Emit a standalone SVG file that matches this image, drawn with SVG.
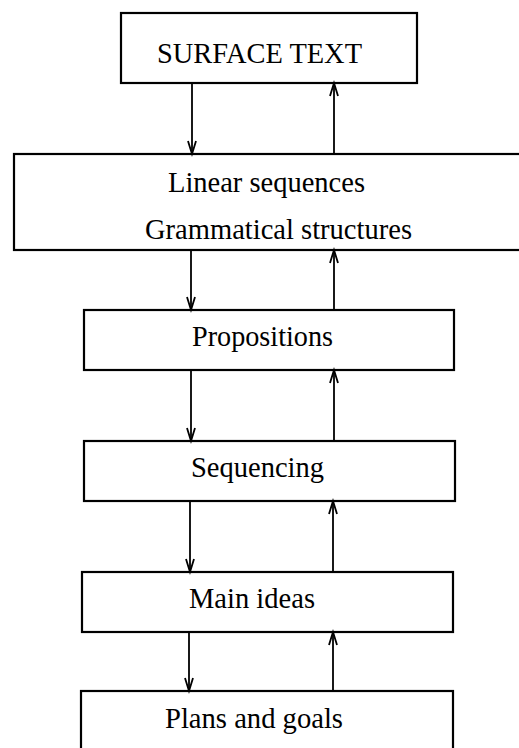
<svg xmlns="http://www.w3.org/2000/svg" width="519" height="748" viewBox="0 0 519 748">
<style>
.box{fill:#fff;stroke:#000;stroke-width:2.2}
.lbl{font-family:"Liberation Serif","Times New Roman",serif;font-size:30px;fill:#000}
.con line{stroke:#000;stroke-width:1.8;fill:none}
.con polyline{stroke:#000;stroke-width:1.8;fill:none}
</style>
<rect width="519" height="748" fill="#fff"/>
<g id="surface-text"><rect class="box" x="121" y="13" width="296" height="70"/><text class="lbl" x="157" y="63" textLength="205" lengthAdjust="spacingAndGlyphs">SURFACE TEXT</text></g>
<g id="linear-grammatical"><rect class="box" x="14" y="154" width="520" height="96"/><text class="lbl" x="168" y="192" textLength="197" lengthAdjust="spacingAndGlyphs">Linear sequences</text><text class="lbl" x="145" y="239" textLength="267" lengthAdjust="spacingAndGlyphs">Grammatical structures</text></g>
<g id="propositions"><rect class="box" x="84" y="310" width="370" height="60"/><text class="lbl" x="192" y="346" textLength="141" lengthAdjust="spacingAndGlyphs">Propositions</text></g>
<g id="sequencing"><rect class="box" x="84" y="441" width="371" height="60"/><text class="lbl" x="191" y="477" textLength="133" lengthAdjust="spacingAndGlyphs">Sequencing</text></g>
<g id="main-ideas"><rect class="box" x="82" y="572" width="371" height="60"/><text class="lbl" x="189" y="608" textLength="126" lengthAdjust="spacingAndGlyphs">Main ideas</text></g>
<g id="plans-goals"><rect class="box" x="81" y="691" width="372" height="70"/><text class="lbl" x="165" y="728" textLength="178" lengthAdjust="spacingAndGlyphs">Plans and goals</text></g>
<g id="connectors" class="con">
<line x1="192" y1="83" x2="192" y2="154"/><polyline points="188,141 192,154 196,141"/>
<line x1="334" y1="154" x2="334" y2="83"/><polyline points="330,96 334,83 338,96"/>
<line x1="191" y1="250" x2="191" y2="310"/><polyline points="187,297 191,310 195,297"/>
<line x1="334" y1="310" x2="334" y2="250"/><polyline points="330,263 334,250 338,263"/>
<line x1="191" y1="370" x2="191" y2="441"/><polyline points="187,428 191,441 195,428"/>
<line x1="334" y1="441" x2="334" y2="370"/><polyline points="330,383 334,370 338,383"/>
<line x1="190" y1="501" x2="190" y2="572"/><polyline points="186,559 190,572 194,559"/>
<line x1="333" y1="572" x2="333" y2="501"/><polyline points="329,514 333,501 337,514"/>
<line x1="189" y1="632" x2="189" y2="691"/><polyline points="185,678 189,691 193,678"/>
<line x1="333" y1="691" x2="333" y2="632"/><polyline points="329,645 333,632 337,645"/>
</g>
</svg>
